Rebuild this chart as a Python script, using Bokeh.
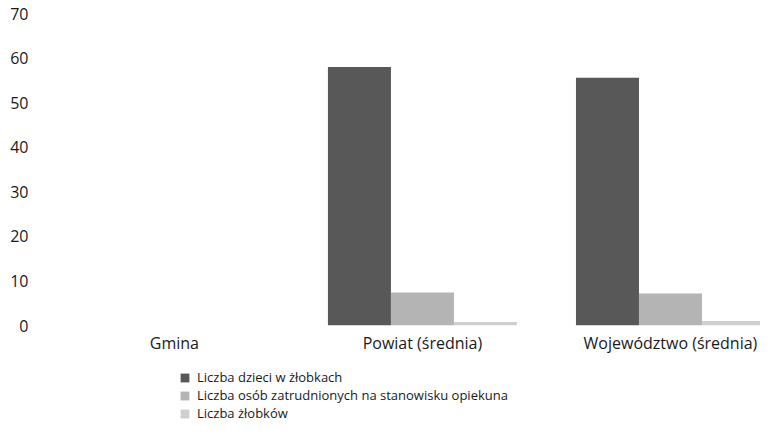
from bokeh.plotting import figure
from bokeh.layouts import column
from bokeh.models import ColumnDataSource, Legend, LegendItem, FixedTicker, Range1d
from bokeh.embed import file_html
from bokeh.resources import INLINE

categories = ["Gmina", "Powiat (średnia)", "Województwo (średnia)"]
series_names = ["Liczba dzieci w żłobkach",
                "Liczba osób zatrudnionych na stanowisku opiekuna",
                "Liczba żłobków"]
dzieci = [0, 58, 55.6]
opiekunowie = [0, 7.4, 7.2]
zlobki = [0, 0.8, 1.0]
y_ticks = [0, 10, 20, 30, 40, 50, 60, 70]

values = [dzieci, opiekunowie, zlobki]
colors = ["#585858", "#b4b4b4", "#cfcfcf"]
bar_w = 0.254
offsets = [-bar_w, 0, bar_w]
FONT = "Open Sans"
TXT = "#1a1a1a"

p = figure(width=760, height=360, output_backend="svg", toolbar_location=None,
           x_range=Range1d(-0.548, 2.363), y_range=Range1d(0, 70),
           min_border_left=38, min_border_right=0, min_border_top=13,
           min_border_bottom=35)
p.outline_line_color = None
p.xgrid.visible = False
p.ygrid.visible = False

sources = []
for vals, col, off in zip(values, colors, offsets):
    src = ColumnDataSource(dict(x=[i + off for i in range(len(categories))], top=vals))
    sources.append(src)
    p.vbar(x="x", top="top", width=bar_w, source=src, fill_color=col, line_color=None)

p.xaxis.ticker = FixedTicker(ticks=list(range(len(categories))))
p.xaxis.major_label_overrides = {i: c for i, c in enumerate(categories)}
p.yaxis.ticker = FixedTicker(ticks=y_ticks)
for ax in (p.xaxis, p.yaxis):
    ax.axis_line_color = None
    ax.major_tick_line_color = None
    ax.minor_tick_line_color = None
    ax.major_tick_out = 0
    ax.major_tick_in = 0
    ax.minor_tick_out = 0
    ax.major_label_text_font = FONT
    ax.major_label_text_font_size = "16px"
    ax.major_label_text_color = TXT
p.yaxis.major_label_standoff = 10
p.xaxis.major_label_standoff = 6

# legend panel below the chart (its own frame is aligned with the chart's)
lg = figure(width=760, height=66, output_backend="svg", toolbar_location=None,
            x_range=Range1d(1000, 1001), y_range=Range1d(1000, 1001),
            min_border_left=0, min_border_right=0, min_border_top=0, min_border_bottom=0)
lg.outline_line_color = None
lg.xaxis.visible = False
lg.yaxis.visible = False
lg.xgrid.visible = False
lg.ygrid.visible = False
items = []
for name, col, src in zip(series_names, colors, sources):
    r = lg.vbar(x="x", top="top", width=bar_w, source=src, fill_color=col, line_color=None)
    items.append(LegendItem(label=name, renderers=[r]))
legend = Legend(items=items, location=(141, 4), orientation="vertical",
                label_text_font=FONT, label_text_font_size="13px", label_text_color=TXT,
                glyph_width=11, glyph_height=11, label_standoff=7, spacing=-3,
                label_height=16, padding=0, margin=0, border_line_color=None,
                background_fill_alpha=0)
lg.add_layout(legend, "center")

layout = column(p, lg, spacing=0)
open("out.html", "w").write(file_html(layout, INLINE))
